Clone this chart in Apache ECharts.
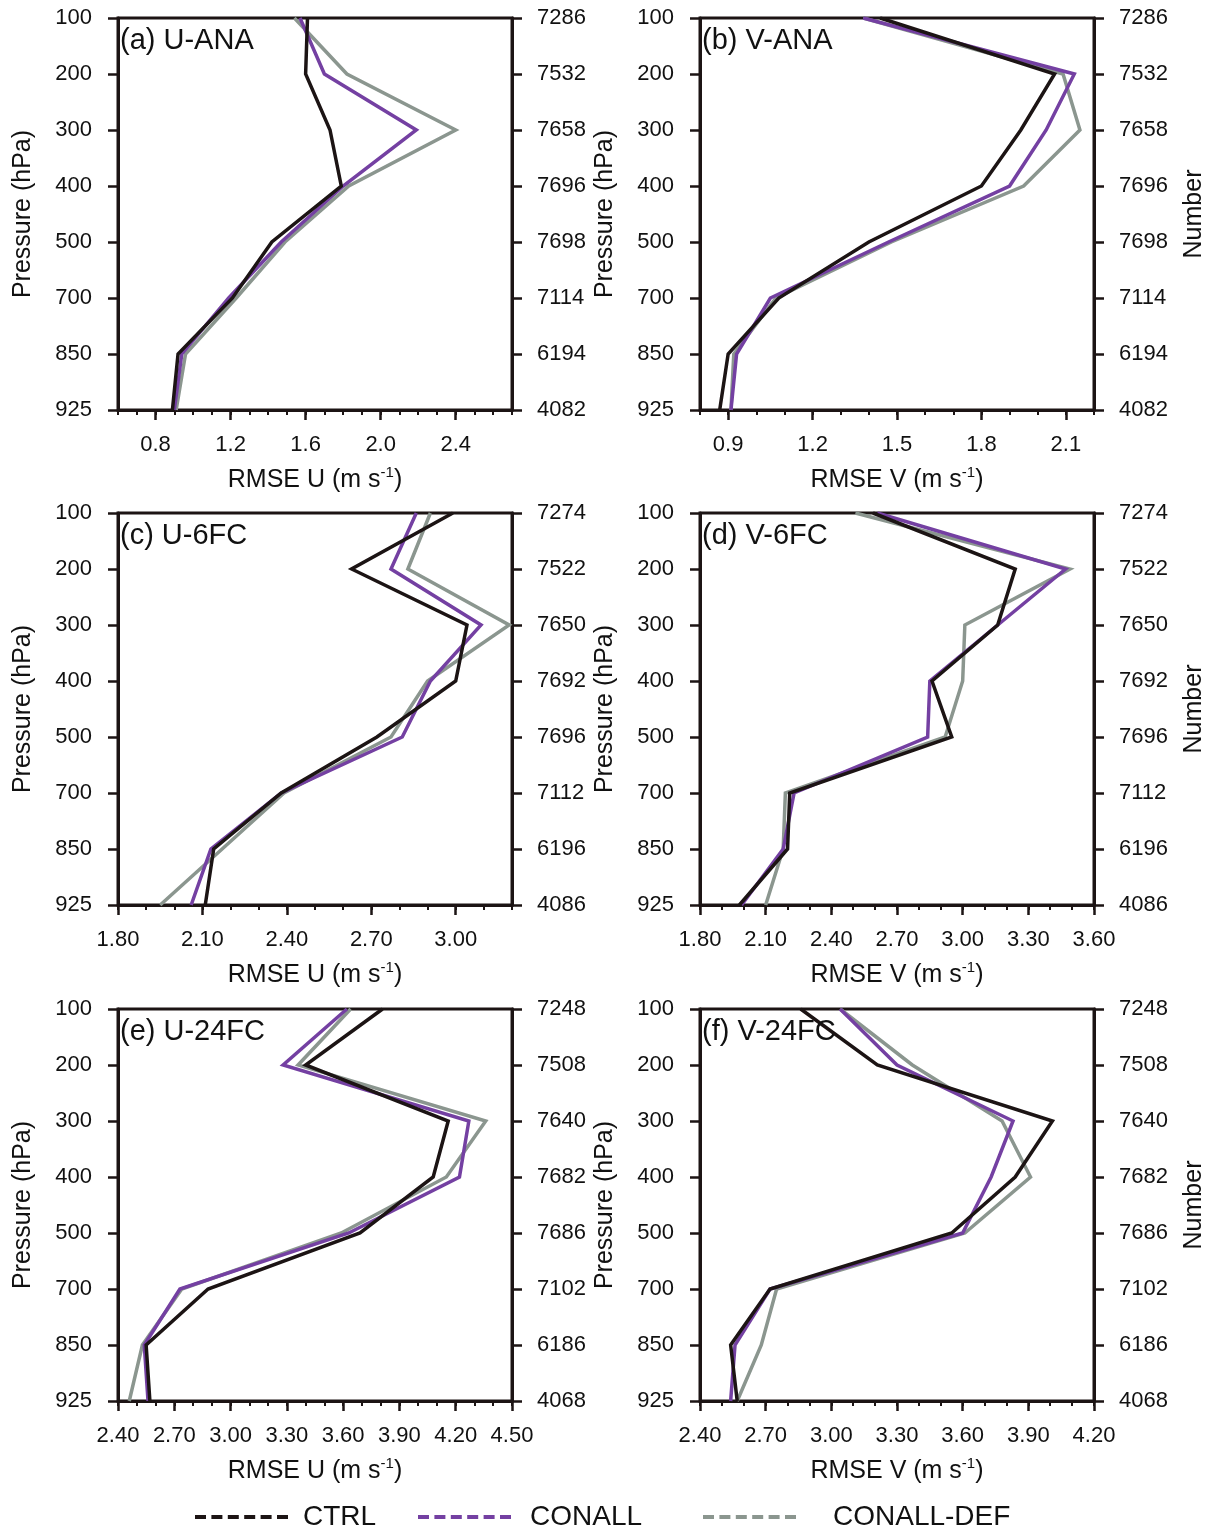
<!DOCTYPE html>
<html><head><meta charset="utf-8">
<script src="https://cdn.jsdelivr.net/npm/echarts@6/dist/echarts.min.js"></script>
<style>html,body{margin:0;padding:0;background:#fff}#c{width:1214px;height:1533px}</style>
</head><body><div id="c"></div>
<script>
// ---------- data ----------
const levels = ['100','200','300','400','500','700','850','925'];

const numbersANA  = ['7286','7532','7658','7696','7698','7114','6194','4082'];
const numbers6FC  = ['7274','7522','7650','7692','7696','7112','6196','4086'];
const numbers24FC = ['7248','7508','7640','7682','7686','7102','6186','4068'];

// (a) U-ANA
const uAnaCtrl   = [1.61, 1.60, 1.73, 1.79, 1.42, 1.21, 0.92, 0.89];
const uAnaConall = [1.57, 1.70, 2.19, 1.80, 1.47, 1.19, 0.94, 0.90];
const uAnaDef    = [1.54, 1.82, 2.40, 1.83, 1.49, 1.23, 0.96, 0.91];
// (b) V-ANA
const vAnaCtrl   = [1.44, 2.06, 1.94, 1.80, 1.40, 1.08, 0.90, 0.87];
const vAnaConall = [1.38, 2.13, 2.03, 1.90, 1.47, 1.05, 0.93, 0.91];
const vAnaDef    = [1.38, 2.09, 2.15, 1.95, 1.48, 1.07, 0.92, 0.91];
// (c) U-6FC
const u6Ctrl     = [2.99, 2.63, 3.04, 3.00, 2.72, 2.38, 2.14, 2.11];
const u6Conall   = [2.86, 2.77, 3.09, 2.91, 2.81, 2.38, 2.13, 2.06];
const u6Def      = [2.91, 2.83, 3.19, 2.90, 2.77, 2.39, 2.17, 1.95];
// (d) V-6FC
const v6Ctrl     = [2.59, 3.24, 3.16, 2.86, 2.95, 2.21, 2.20, 1.98];
const v6Conall   = [2.61, 3.47, 3.16, 2.85, 2.84, 2.23, 2.18, 1.99];
const v6Def      = [2.51, 3.49, 3.01, 3.00, 2.92, 2.19, 2.18, 2.10];
// (e) U-24FC
const u24Ctrl    = [3.81, 3.40, 4.16, 4.08, 3.69, 2.88, 2.55, 2.57];
const u24Conall  = [3.62, 3.28, 4.27, 4.22, 3.63, 2.73, 2.54, 2.56];
const u24Def     = [3.64, 3.36, 4.36, 4.15, 3.59, 2.74, 2.53, 2.46];
// (f) V-24FC
const v24Ctrl    = [2.86, 3.21, 4.01, 3.84, 3.55, 2.72, 2.54, 2.57];
const v24Conall  = [3.04, 3.30, 3.83, 3.73, 3.60, 2.72, 2.56, 2.54];
const v24Def     = [3.04, 3.37, 3.78, 3.91, 3.61, 2.75, 2.68, 2.57];

// tick labels
const ticksA = [0.8, 1.2, 1.6, 2.0, 2.4];
const ticksB = [0.9, 1.2, 1.5, 1.8, 2.1];
const ticksC = [1.8, 2.1, 2.4, 2.7, 3.0];
const ticksD = [1.8, 2.1, 2.4, 2.7, 3.0, 3.3, 3.6];
const ticksE = [2.4, 2.7, 3.0, 3.3, 3.6, 3.9, 4.2, 4.5];
const ticksF = [2.4, 2.7, 3.0, 3.3, 3.6, 3.9, 4.2];

const seriesNames = ['CTRL', 'CONALL', 'CONALL-DEF'];

// ---------- panels ----------
const panels = [
  {label:'(a) U-ANA',  comp:'U', min:0.6, max:2.7, ticks:ticksA, dec:1, nums:numbersANA,  s:[uAnaCtrl, uAnaConall, uAnaDef], col:0, row:0},
  {label:'(b) V-ANA',  comp:'V', min:0.8, max:2.2, ticks:ticksB, dec:1, nums:numbersANA,  s:[vAnaCtrl, vAnaConall, vAnaDef], col:1, row:0},
  {label:'(c) U-6FC',  comp:'U', min:1.8, max:3.2, ticks:ticksC, dec:2, nums:numbers6FC,  s:[u6Ctrl, u6Conall, u6Def],       col:0, row:1},
  {label:'(d) V-6FC',  comp:'V', min:1.8, max:3.6, ticks:ticksD, dec:2, nums:numbers6FC,  s:[v6Ctrl, v6Conall, v6Def],       col:1, row:1},
  {label:'(e) U-24FC', comp:'U', min:2.4, max:4.5, ticks:ticksE, dec:2, nums:numbers24FC, s:[u24Ctrl, u24Conall, u24Def],    col:0, row:2},
  {label:'(f) V-24FC', comp:'V', min:2.4, max:4.2, ticks:ticksF, dec:2, nums:numbers24FC, s:[v24Ctrl, v24Conall, v24Def],    col:1, row:2}
];

const colLeft = [118, 700];
const rowTop = [18, 513, 1009];
const W = 394, H = 392;
const AX = '#1c1414';
const TXT = '#111111';
const colors = ['#1c1414', '#7440a2', '#8b968f'];
const zs = [5, 4, 3];

const grids = [], xAxes = [], yAxes = [], series = [], titles = [];

panels.forEach((p, i) => {
  grids.push({left: colLeft[p.col], top: rowTop[p.row], width: W, height: H,
    show: true, borderColor: AX, borderWidth: 3, backgroundColor: 'transparent'});

  const minor = [];
  const n = Math.round((p.max - p.min) * 10);
  for (let k = 0; k <= n; k++) minor.push(Math.round((p.min + k * 0.1) * 10) / 10);

  // minor-tick axis
  xAxes.push({type: 'value', gridIndex: i, position: 'bottom', min: p.min, max: p.max,
    axisLine: {show: false}, splitLine: {show: false},
    axisTick: {show: true, length: 5, customValues: minor, lineStyle: {color: AX, width: 2}},
    axisLabel: {show: false}});
  // main axis
  xAxes.push({type: 'value', gridIndex: i, position: 'bottom', min: p.min, max: p.max,
    axisLine: {show: true, onZero: false, lineStyle: {color: AX, width: 3}},
    splitLine: {show: false},
    axisTick: {show: true, length: 10, customValues: p.ticks, lineStyle: {color: AX, width: 2.5}},
    axisLabel: {show: true, customValues: p.ticks, fontSize: 22, margin: 24, color: TXT,
      fontFamily: 'Liberation Sans', formatter: v => Number(v).toFixed(p.dec)},
    name: '{t|RMSE ' + p.comp + ' (m s}{s|-1}{t|)}',
    nameLocation: 'middle', nameGap: 55,
    nameTextStyle: {rich: {
      t: {fontSize: 25, color: TXT, fontFamily: 'Liberation Sans', lineHeight: 30},
      s: {fontSize: 15, color: TXT, fontFamily: 'Liberation Sans', lineHeight: 16, verticalAlign: 'top'}
    }}});

  yAxes.push({type: 'category', gridIndex: i, position: 'left', data: levels, inverse: true,
    boundaryGap: false,
    axisLine: {show: true, onZero: false, lineStyle: {color: AX, width: 3}},
    axisTick: {show: true, length: 10, alignWithLabel: true, lineStyle: {color: AX, width: 2.5}},
    axisLabel: {fontSize: 22, margin: 26, color: TXT, fontFamily: 'Liberation Sans'},
    splitLine: {show: false},
    name: 'Pressure (hPa)', nameLocation: 'middle', nameGap: 82, nameRotate: 90,
    nameTextStyle: {fontSize: 25, color: TXT, fontFamily: 'Liberation Sans'}});
  yAxes.push({type: 'category', gridIndex: i, position: 'right', data: p.nums, inverse: true,
    boundaryGap: false,
    axisLine: {show: true, onZero: false, lineStyle: {color: AX, width: 3}},
    axisTick: {show: true, length: 10, alignWithLabel: true, lineStyle: {color: AX, width: 2.5}},
    axisLabel: {fontSize: 22, margin: 25, color: TXT, fontFamily: 'Liberation Sans'},
    splitLine: {show: false},
    name: p.col === 1 ? 'Number' : '', nameLocation: 'middle', nameGap: 88, nameRotate: 90,
    nameTextStyle: {fontSize: 25, color: TXT, fontFamily: 'Liberation Sans'}});

  // draw order: DEF, CONALL, CTRL (CTRL on top)
  [2, 1, 0].forEach(k => {
    series.push({type: 'line', name: seriesNames[k], xAxisIndex: 2 * i + 1, yAxisIndex: 2 * i,
      data: p.s[k].map((v, j) => [v, levels[j]]),
      symbol: 'none', color: colors[k], z: zs[k],
      lineStyle: {color: colors[k], width: 3.5, join: 'miter'},
      itemStyle: {color: colors[k]}, animation: false});
  });

  titles.push({text: p.label, left: colLeft[p.col] + 2, top: rowTop[p.row] + 8, padding: 0,
    textStyle: {fontSize: 29, fontWeight: 'normal', color: TXT, fontFamily: 'Liberation Sans'}});
});

const dash = 'path://M0,0h11v4h-11z M16.4,0h11v4h-11z M32.8,0h11v4h-11z M49.2,0h11v4h-11z M65.6,0h11v4h-11z M82,0h11v4h-11z';
const legBase = {icon: dash, itemWidth: 93, itemHeight: 4, top: 1503, padding: 0, selectedMode: false,
  symbolKeepAspect: false, itemStyle: {borderWidth: 0}};
const legends = [
  Object.assign({}, legBase, {data: ['CTRL'], left: 195,
    textStyle: {fontSize: 28, color: TXT, fontFamily: 'Liberation Sans', padding: [0,0,0,10]}}),
  Object.assign({}, legBase, {data: ['CONALL'], left: 418,
    textStyle: {fontSize: 28, color: TXT, fontFamily: 'Liberation Sans', padding: [0,0,0,14]}}),
  Object.assign({}, legBase, {data: ['CONALL-DEF'], left: 703,
    textStyle: {fontSize: 28, color: TXT, fontFamily: 'Liberation Sans', padding: [0,0,0,32]}})
];

const chart = echarts.init(document.getElementById('c'), null, {renderer: 'canvas'});
chart.setOption({
  backgroundColor: '#ffffff',
  animation: false,
  textStyle: {fontFamily: 'Liberation Sans'},
  title: titles,
  legend: legends,
  grid: grids,
  xAxis: xAxes,
  yAxis: yAxes,
  series: series
});
</script>
</body></html>
